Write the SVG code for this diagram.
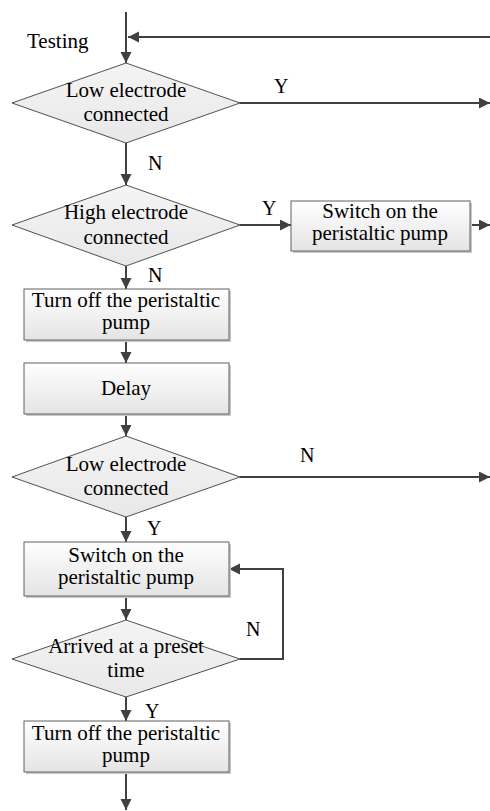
<svg xmlns="http://www.w3.org/2000/svg" width="490" height="811" viewBox="0 0 490 811">
<style>
text{font-family:'Liberation Serif','Times New Roman','DejaVu Serif',serif}
.t{font-size:21px;fill:#000;text-anchor:middle}
.l{font-size:20px;fill:#000}
.c{fill:none;stroke:#404040;stroke-width:2}
.box{fill:url(#bg);stroke:#606060;stroke-width:1}
.sh{fill:#c8c8c8}
.dia{fill:url(#dg);stroke:#505050;stroke-width:1}
</style>
<defs>
<linearGradient id="bg" x1="0" y1="0" x2="0" y2="1"><stop offset="0" stop-color="#ffffff"/><stop offset="1" stop-color="#e4e4e4"/></linearGradient>
<linearGradient id="dg" x1="0" y1="0" x2="0" y2="1"><stop offset="0" stop-color="#f4f4f4"/><stop offset="1" stop-color="#e8e8e8"/></linearGradient>
<marker id="ah" markerUnits="userSpaceOnUse" markerWidth="12" markerHeight="12" refX="11" refY="5.5" orient="auto"><path d="M0,0 L11,5.5 L0,11 z" fill="#404040"/></marker>
</defs>
<rect width="490" height="811" fill="#fff"/>
<g id="connectors">
<path class="c" d="M126,12 V63" marker-end="url(#ah)"/>
<path class="c" d="M490,37 H128" marker-end="url(#ah)"/>
<path class="c" d="M240,103 H490" marker-end="url(#ah)"/>
<path class="c" d="M126,143 V185" marker-end="url(#ah)"/>
<path class="c" d="M240,225 H291" marker-end="url(#ah)"/>
<path class="c" d="M470,225 H490" marker-end="url(#ah)"/>
<path class="c" d="M126,266 V289" marker-end="url(#ah)"/>
<path class="c" d="M126,340 V363" marker-end="url(#ah)"/>
<path class="c" d="M126,414 V436" marker-end="url(#ah)"/>
<path class="c" d="M240,477 H490" marker-end="url(#ah)"/>
<path class="c" d="M126,517 V542" marker-end="url(#ah)"/>
<path class="c" d="M126,596 V620" marker-end="url(#ah)"/>
<path class="c" d="M240,659 H283 V569 H229" marker-end="url(#ah)"/>
<path class="c" d="M126,697 V721" marker-end="url(#ah)"/>
<path class="c" d="M126,772 V810" marker-end="url(#ah)"/>
<text class="l" x="274" y="93">Y</text>
<text class="l" x="148" y="170">N</text>
<text class="l" x="262" y="215">Y</text>
<text class="l" x="148" y="282">N</text>
<text class="l" x="300" y="462">N</text>
<text class="l" x="147" y="535">Y</text>
<text class="l" x="246" y="636">N</text>
<text class="l" x="145" y="718">Y</text>
</g>
<g id="start"><text class="l" x="27" y="48" style="font-size:21px">Testing</text></g>
<g id="d1"><polygon class="dia" points="126,63 240,103 126,143 12,103"/><text class="t" x="126" y="97">Low electrode</text><text class="t" x="126" y="121">connected</text></g>
<g id="d2"><polygon class="dia" points="126,185 240,225 126,266 12,225"/><text class="t" x="126" y="219">High electrode</text><text class="t" x="126" y="244">connected</text></g>
<g id="b2"><rect class="sh" x="293" y="203" width="179" height="50"/><rect class="box" x="291" y="201" width="179" height="50"/><text class="t" x="380" y="218">Switch on the</text><text class="t" x="380" y="240">peristaltic pump</text></g>
<g id="b3"><rect class="sh" x="26" y="291" width="205" height="51"/><rect class="box" x="24" y="289" width="205" height="51"/><text class="t" x="126" y="307">Turn off the peristaltic</text><text class="t" x="126" y="329">pump</text></g>
<g id="b4"><rect class="sh" x="26" y="365" width="205" height="51"/><rect class="box" x="24" y="363" width="205" height="51"/><text class="t" x="126" y="395">Delay</text></g>
<g id="d3"><polygon class="dia" points="126,436 240,477 126,517 12,477"/><text class="t" x="126" y="471">Low electrode</text><text class="t" x="126" y="495">connected</text></g>
<g id="b5"><rect class="sh" x="26" y="544" width="205" height="54"/><rect class="box" x="24" y="542" width="205" height="54"/><text class="t" x="126" y="562">Switch on the</text><text class="t" x="126" y="584">peristaltic pump</text></g>
<g id="d4"><polygon class="dia" points="126,620 240,659 126,697 12,659"/><text class="t" x="126" y="653">Arrived at a preset</text><text class="t" x="126" y="677">time</text></g>
<g id="b6"><rect class="sh" x="26" y="723" width="205" height="51"/><rect class="box" x="24" y="721" width="205" height="51"/><text class="t" x="126" y="740">Turn off the peristaltic</text><text class="t" x="126" y="762">pump</text></g>
</svg>
